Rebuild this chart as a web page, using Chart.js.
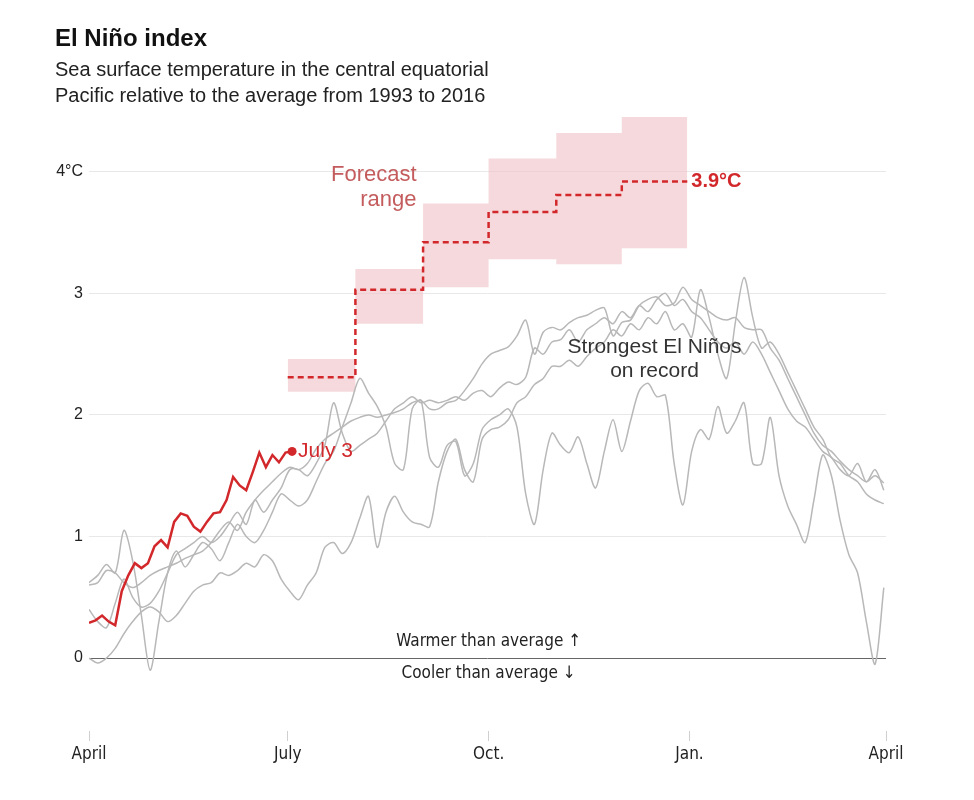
<!DOCTYPE html>
<html>
<head>
<meta charset="utf-8">
<script src="https://cdn.jsdelivr.net/npm/chart.js@4.4.1/dist/chart.umd.min.js"></script>
<style>
  html, body { margin: 0; background: #fff; }
  #wrap { position: relative; width: 974px; height: 800px; }
</style>
</head>
<body>
<div id="wrap"><canvas id="nino" width="974" height="800"></canvas></div>
<script>
// x values are days since April 1
const tickDays = [0, 91, 183, 275, 365];
const tickLabels = ['April', 'July', 'Oct.', 'Jan.', 'April'];
const yTicks = [0, 1, 2, 3, 4];

// strongest past El Niños, one value every 4 days
const pastStep = 4;
const pastA = [
  0.6, 0.62, 0.72, 0.7, 0.62, 0.58, 0.62, 0.68, 0.72, 0.75,
  0.78, 0.82, 0.85, 0.88, 0.95, 1.05, 1.12, 1.05, 1.2, 1.3,
  1.38, 1.45, 1.52, 1.57, 1.55, 1.6, 1.72, 1.8, 1.85, 1.9,
  1.95, 1.98, 2.0, 1.98, 2.0, 2.02, 2.05, 2.1, 2.12, 2.05,
  2.05, 2.1, 2.12, 2.2, 2.3, 2.42, 2.5, 2.53, 2.56, 2.65,
  2.78, 2.5, 2.68, 2.72, 2.7, 2.76, 2.8, 2.82, 2.86, 2.88,
  2.65, 2.76, 2.78, 2.9, 2.95, 2.97, 2.9, 2.92, 3.05, 2.95,
  2.9, 2.85, 2.8, 2.78, 2.8, 2.72, 2.7, 2.7, 2.55, 2.45,
  2.3, 2.15, 2.0, 1.85, 1.75, 1.7, 1.62, 1.55, 1.5, 1.45,
  1.5, 1.44
];
const pastB = [
  0.4, 0.3, 0.25, 0.45, 0.65, 0.5, 0.42, 0.45, 0.55, 0.7,
  0.85, 0.9, 0.95, 1.0, 0.95, 1.0, 1.1, 1.2, 1.1, 1.3,
  1.2, 1.3, 1.4, 1.55, 1.55, 1.5, 1.6, 1.75, 2.1, 1.85,
  1.7, 1.75, 1.8, 1.85, 1.95, 2.05, 2.1, 2.15, 2.1, 2.12,
  2.1, 2.12, 2.15, 2.12, 2.18, 2.2, 2.15, 2.22, 2.27, 2.25,
  2.31, 2.55, 2.5, 2.6, 2.62, 2.7, 2.6, 2.7, 2.75, 2.8,
  2.75, 2.85, 2.8, 2.9, 2.85, 2.95, 3.0, 2.9, 2.95, 2.85,
  2.8, 2.7, 2.6, 2.55, 2.6, 2.5, 2.6, 2.5, 2.35, 2.2,
  2.05, 1.95, 1.9, 1.8, 1.7, 1.65, 1.55, 1.5, 1.6, 1.45,
  1.55, 1.38
];
const pastC = [
  0.62, 0.68, 0.77, 0.7, 1.05, 0.8, 0.35, -0.1, 0.3, 0.7,
  0.88, 0.75, 0.85, 0.95, 0.9, 0.8, 0.95, 1.1, 1.0, 0.95,
  1.05, 1.2, 1.35, 1.3, 1.25, 1.3, 1.45, 1.6, 1.7, 1.9,
  2.1, 2.3, 2.18, 2.07, 1.9, 1.6, 1.55, 2.05, 2.12, 1.65,
  1.57, 1.75, 1.78, 1.5, 1.6, 1.88, 1.96, 2.0, 2.05, 1.9,
  1.35, 1.1, 1.55, 1.85, 1.75, 1.69, 1.82, 1.6, 1.4, 1.7,
  1.96, 1.7, 1.95, 2.2, 2.26, 2.15, 2.16, 1.6, 1.26, 1.7,
  1.88, 1.8, 2.07, 1.85, 1.95, 2.1, 1.6, 1.6, 1.98, 1.5,
  1.25, 1.1, 0.95, 1.3, 1.67, 1.5, 1.13, 0.85, 0.7, 0.3,
  -0.05, 0.58
];
const pastD = [
  0.0, -0.04, 0.0, 0.08, 0.2, 0.3, 0.38, 0.42, 0.38, 0.3,
  0.35, 0.45, 0.55, 0.6, 0.62, 0.7, 0.68, 0.72, 0.78, 0.75,
  0.85, 0.8, 0.65, 0.55, 0.48, 0.6, 0.7, 0.91, 0.95, 0.86,
  0.95, 1.15, 1.33, 0.91, 1.2, 1.33, 1.2, 1.12, 1.1, 1.08,
  1.45, 1.7, 1.8, 1.55, 1.45, 1.8, 1.88, 1.9, 1.96, 2.1,
  2.15, 2.25, 2.3, 2.4, 2.4, 2.45, 2.4, 2.48, 2.55, 2.6,
  2.7, 2.65, 2.75, 2.7, 2.8, 2.75, 2.85, 2.7, 2.75, 2.64,
  3.03, 2.8, 2.5, 2.3, 2.76, 3.13, 2.8, 2.55, 2.6, 2.5,
  2.35, 2.2, 2.05, 1.9, 1.8, 1.65, 1.6, 1.5, 1.45, 1.35,
  1.3, 1.27
];

// this year, April 1 to July 3, one value every 3 days
const obsStep = 3;
const observed = [
  0.29, 0.31, 0.35, 0.3, 0.27, 0.55, 0.68, 0.78, 0.74, 0.78,
  0.92, 0.97, 0.91, 1.12, 1.19, 1.17, 1.08, 1.04, 1.12, 1.19,
  1.2, 1.3, 1.49, 1.42, 1.38, 1.53, 1.69, 1.57, 1.67, 1.61,
  1.69, 1.70
];

// monthly forecast, July to December
const forecastEdges = [91, 122, 153, 183, 214, 244, 274];
const forecastLow = [2.19, 2.75, 3.05, 3.28, 3.24, 3.37];
const forecastHigh = [2.46, 3.2, 3.74, 4.11, 4.32, 4.45];
const forecastMid = [2.31, 3.03, 3.42, 3.67, 3.81, 3.92];

const RED = '#d3282b';
const GRAY = '#b8b8b8';
const PINK = 'rgba(240, 196, 201, 0.65)';
const NARROW = "'Liberation Sans Narrow', 'DejaVu Sans Condensed', sans-serif";
const SANS = "'Liberation Sans', Arial, sans-serif";

const toPoints = (vals, step) => vals.map((v, i) => ({ x: i * step, y: v }));
const stepPoints = (vals) => vals.flatMap((v, i) => [
  { x: forecastEdges[i], y: v },
  { x: forecastEdges[i + 1], y: v }
]);

const pastLine = (vals) => ({
  data: toPoints(vals, pastStep),
  borderColor: GRAY,
  borderWidth: 1.5,
  pointRadius: 0,
  tension: 0.3,
  order: 3
});

const textPlugin = {
  id: 'labels',
  afterDraw(chart) {
    const { ctx, scales: { x, y } } = chart;
    ctx.save();

    // heading
    ctx.fillStyle = '#111';
    ctx.textAlign = 'left';
    ctx.textBaseline = 'alphabetic';
    ctx.font = `bold 24px ${SANS}`;
    ctx.fillText('El Niño index', 55, 46);
    ctx.fillStyle = '#222';
    ctx.font = `20px ${SANS}`;
    ctx.fillText('Sea surface temperature in the central equatorial', 55, 76);
    ctx.fillText('Pacific relative to the average from 1993 to 2016', 55, 102);

    ctx.textBaseline = 'middle';

    // forecast label
    ctx.fillStyle = '#c45c5e';
    ctx.font = `22px ${SANS}`;
    ctx.textAlign = 'right';
    ctx.fillText('Forecast', x.getPixelForValue(150), y.getPixelForValue(3.97));
    ctx.fillText('range', x.getPixelForValue(150), y.getPixelForValue(3.77));

    // last forecast value
    const lastMid = forecastMid[forecastMid.length - 1];
    ctx.fillStyle = RED;
    ctx.font = `bold 20px ${SANS}`;
    ctx.textAlign = 'left';
    ctx.fillText(lastMid.toFixed(1) + '°C',
      x.getPixelForValue(forecastEdges[forecastEdges.length - 1]) + 4,
      y.getPixelForValue(lastMid));

    // latest observation
    const lastObs = observed[observed.length - 1];
    ctx.font = `21px ${SANS}`;
    ctx.fillText('July 3', x.getPixelForValue((observed.length - 1) * obsStep) + 6,
      y.getPixelForValue(lastObs));

    // past events label
    ctx.fillStyle = '#333';
    ctx.font = `21px ${SANS}`;
    ctx.textAlign = 'center';
    ctx.fillText('Strongest El Niños', x.getPixelForValue(259), y.getPixelForValue(2.56));
    ctx.fillText('on record', x.getPixelForValue(259), y.getPixelForValue(2.36));

    // zero line notes
    ctx.fillStyle = '#222';
    ctx.font = `17px ${NARROW}`;
    const zx = x.getPixelForValue(183);
    const zy = y.getPixelForValue(0);
    ctx.fillText('Warmer than average ↑', zx, zy - 16);
    ctx.fillText('Cooler than average ↓', zx, zy + 16);

    ctx.restore();
  }
};

new Chart(document.getElementById('nino'), {
  type: 'line',
  data: {
    datasets: [
      { data: stepPoints(forecastLow), borderWidth: 0, pointRadius: 0, fill: false, order: 5 },
      { data: stepPoints(forecastHigh), borderWidth: 0, pointRadius: 0, fill: '-1',
        backgroundColor: PINK, order: 5 },
      pastLine(pastA),
      pastLine(pastB),
      pastLine(pastC),
      pastLine(pastD),
      {
        data: toPoints(observed, obsStep),
        borderColor: RED,
        borderWidth: 2.5,
        tension: 0,
        pointRadius: (c) => (c.dataIndex === observed.length - 1 ? 4.5 : 0),
        pointBackgroundColor: RED,
        pointBorderWidth: 0,
        order: 1
      },
      {
        data: stepPoints(forecastMid),
        borderColor: RED,
        borderWidth: 2.5,
        borderDash: [6, 4],
        pointRadius: 0,
        order: 0
      }
    ]
  },
  options: {
    responsive: false,
    animation: false,
    layout: { padding: { top: 111, right: 88, bottom: 29, left: 0 } },
    plugins: {
      legend: { display: false },
      tooltip: { enabled: false }
    },
    scales: {
      x: {
        type: 'linear',
        min: 0,
        max: 365,
        afterBuildTicks: (s) => { s.ticks = tickDays.map((v) => ({ value: v })); },
        afterFit: (s) => { s.height = 40; },
        border: { display: false },
        grid: { drawOnChartArea: false, tickLength: 10, color: '#d0d0d0' },
        ticks: {
          autoSkip: false,
          maxRotation: 0,
          padding: 3,
          color: '#222',
          font: { family: NARROW, size: 17 },
          callback: (v) => tickLabels[tickDays.indexOf(v)]
        }
      },
      y: {
        min: -0.6,
        max: 4.5,
        afterBuildTicks: (s) => { s.ticks = yTicks.map((v) => ({ value: v })); },
        afterFit: (s) => { s.width = 89; },
        border: { display: false },
        grid: {
          drawTicks: false,
          color: (c) => (c.tick && c.tick.value === 0 ? '#666' : '#e8e8e8')
        },
        ticks: {
          padding: 6,
          color: '#222',
          font: { family: SANS, size: 16 },
          callback: (v) => (v === 4 ? '4°C' : v)
        }
      }
    }
  },
  plugins: [textPlugin]
});
</script>
</body>
</html>
